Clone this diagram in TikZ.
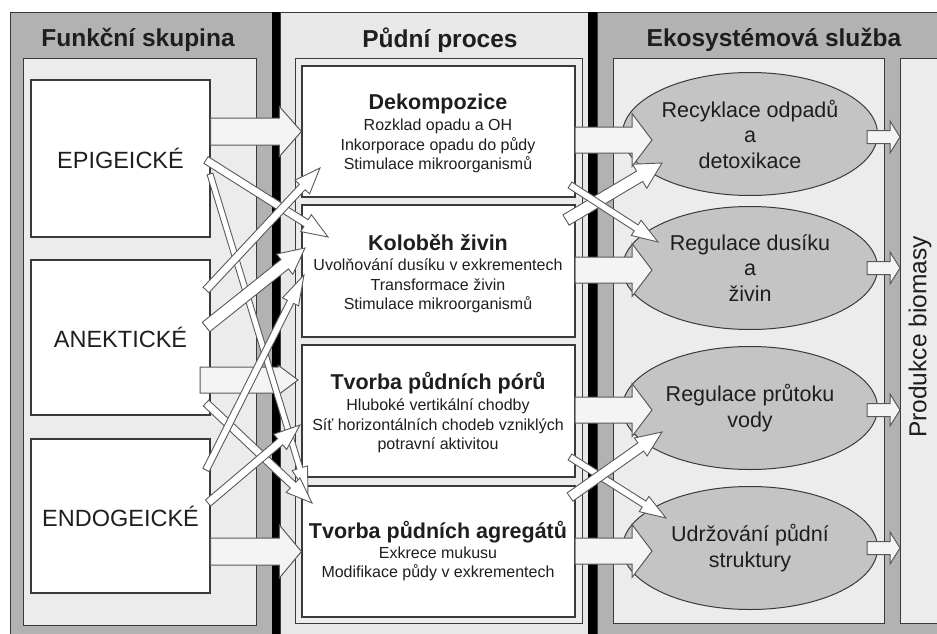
\documentclass[tikz,border=0pt]{standalone}
\usepackage{fontspec}
\setmainfont{Liberation Sans}
\usetikzlibrary{calc,shapes.geometric}

\definecolor{panelgray}{HTML}{B2B2B2}
\definecolor{panellight}{HTML}{ECECEC}
\definecolor{midlight}{HTML}{E8E8E8}
\definecolor{ellgray}{HTML}{C4C4C4}
\definecolor{edge}{HTML}{3A3A3A}
\definecolor{arrfill}{HTML}{F4F4F4}
\definecolor{arredge}{HTML}{5A5A5A}
\definecolor{txt}{HTML}{1E1E1E}

% #1 style, #2 start, #3 end, #4 half shaft, #5 half head, #6 head length
\newcommand\fatarr[6][]{%
  \path ($(#3)!#6!(#2)$) coordinate (fa-h);
  \filldraw[#1] ($(#2)!#4!90:(#3)$) -- ($(fa-h)!#4!90:(#3)$) -- ($(fa-h)!#5!90:(#3)$) -- (#3)
    -- ($(fa-h)!#5!-90:(#3)$) -- ($(fa-h)!#4!-90:(#3)$) -- ($(#2)!#4!-90:(#3)$) -- cycle;
}

\tikzset{
  panel/.style={draw=edge, line width=0.9pt},
  wbox/.style={draw=edge, fill=white, line width=1.2pt, inner sep=0pt},
  ell/.style={ellipse, draw=edge, fill=ellgray, line width=1pt, minimum width=255pt, minimum height=123pt, inner sep=0pt, align=center, font=\fontsize{21.5}{25.5}\selectfont, text=txt},
  hdr/.style={font=\bfseries\fontsize{24.5}{28}\selectfont, text=txt, inner sep=0pt},
  grp/.style={font=\fontsize{23.5}{28}\selectfont, text=txt},
  ttl/.style={font=\bfseries\fontsize{21.5}{25}\selectfont, text=txt, inner sep=0pt},
  bodytxt/.style={font=\fontsize{16}{19.5}\selectfont, text=txt, align=center, inner sep=0pt},
  bigarr/.style={fill=arrfill, draw=arredge, line width=1pt, line join=miter},
  thinarr/.style={fill=white, draw=arredge, line width=0.9pt, line join=miter},
}

\begin{document}
\begin{tikzpicture}[x=1pt,y=-1pt]
\useasboundingbox (0,0) rectangle (937,634);
\fill[white] (0,0) rectangle (937,634);

% column panels
\filldraw[panel, fill=panelgray] (10,12) rectangle (272,640);
\filldraw[panel, fill=midlight] (280,12) rectangle (588,640);
\filldraw[panel, fill=panelgray] (597,12) rectangle (945,640);
\fill[black] (272,12) rectangle (280,640);
\fill[black] (588,12) rectangle (597,640);

% inner panels
\filldraw[panel, fill=panellight] (23,58) rectangle (256,625);
\filldraw[panel, fill=panellight] (295,58) rectangle (582,623);
\filldraw[panel, fill=panellight] (613,58) rectangle (884,623);
\filldraw[panel, fill=panellight] (900,58) rectangle (945,623);

% headers
\node[hdr] (h1) at (138,40) {Funkční skupina};
\node[hdr] (h2) at (440,40) {Půdní proces};
\node[hdr] (h3) at (774,40) {Ekosystémová služba};

% functional groups
\node[wbox, grp, minimum width=179pt, minimum height=157pt] (epi) at (120.5,158.5) {EPIGEICKÉ};
\node[wbox, grp, minimum width=179pt, minimum height=155pt] (ane) at (120.5,337.5) {ANEKTICKÉ};
\node[wbox, grp, minimum width=179pt, minimum height=154pt] (endo) at (120.5,516) {ENDOGEICKÉ};

% soil processes
\node[wbox, minimum width=273pt, minimum height=131pt] (dek) at (438.5,131.5) {};
\node[wbox, minimum width=273pt, minimum height=132pt] (kol) at (438.5,271) {};
\node[wbox, minimum width=273pt, minimum height=132pt] (por) at (438.5,411) {};
\node[wbox, minimum width=273pt, minimum height=131pt] (agr) at (438.5,551.5) {};

\node[ttl] (dek-t) at (438,104) {Dekompozice};
\node[bodytxt] (dek-b) at (438,146) {Rozklad opadu a OH\\Inkorporace opadu do půdy\\Stimulace mikroorganismů};
\node[ttl] (kol-t) at (438,243) {Koloběh živin};
\node[bodytxt] (kol-b) at (438,286) {Uvolňování dusíku v exkrementech\\Transformace živin\\Stimulace mikroorganismů};
\node[ttl] (por-t) at (438,383) {Tvorba půdních pórů};
\node[bodytxt] (por-b) at (438,426) {Hluboké vertikální chodby\\Síť horizontálních chodeb vzniklých\\potravní aktivitou};
\node[ttl] (agr-t) at (438,532) {Tvorba půdních agregátů};
\node[bodytxt] (agr-b) at (438,564) {Exkrece mukusu\\Modifikace půdy v exkrementech};

% ecosystem services
\node[ell] (e1) at (750,134) {Recyklace odpadů\\a\\detoxikace};
\node[ell] (e2) at (750,268) {Regulace dusíku\\a\\živin};
\node[ell] (e3) at (750,408) {Regulace průtoku\\vody};
\node[ell] (e4) at (750,548) {Udržování půdní\\struktury};

\node[font=\fontsize{24.5}{28}\selectfont, text=txt, rotate=90, inner sep=0pt] (prod) at (920,337) {Produkce biomasy};

% arrow end points
\coordinate (a1s) at ($(epi.east |- 0,131.5)$);
\coordinate (a1e) at ($(dek.west)$);
\coordinate (a2s) at (200,380);
\coordinate (a2e) at (298,380);
\coordinate (a3s) at ($(endo.east |- 0,551.5)$);
\coordinate (a3e) at ($(agr.west)$);

\coordinate (b1s) at (575,140); \coordinate (b1e) at (652,140);
\coordinate (b2s) at (575,270); \coordinate (b2e) at (652,270);
\coordinate (b3s) at (575,410); \coordinate (b3e) at (652,410);
\coordinate (b4s) at (575,551); \coordinate (b4e) at (652,551);

\coordinate (c1s) at (867,137); \coordinate (c1e) at (900,137);
\coordinate (c2s) at (867,268); \coordinate (c2e) at (900,268);
\coordinate (c3s) at (867,410); \coordinate (c3e) at (900,410);
\coordinate (c4s) at (867,548); \coordinate (c4e) at (900,548);

\coordinate (l1s) at (206,160); \coordinate (l1e) at (328,237);
\coordinate (l2s) at (210,174); \coordinate (l2e) at (308,495);
\coordinate (l3s) at (206,290); \coordinate (l3e) at (320,168);
\coordinate (l4s) at (206,327); \coordinate (l4e) at (305,248);
\coordinate (l5s) at (206,403); \coordinate (l5e) at (312,503);
\coordinate (l6s) at (206,470); \coordinate (l6e) at (304,275);
\coordinate (l7s) at (208,503); \coordinate (l7e) at (300,425);

\coordinate (r1s) at (566,220); \coordinate (r1e) at (662,163);
\coordinate (r2s) at (570,185); \coordinate (r2e) at (658,242);
\coordinate (r3s) at (570,457); \coordinate (r3e) at (666,518);
\coordinate (r4s) at (570,497); \coordinate (r4e) at (662,432);

% big arrows
\fatarr[bigarr]{a1s}{a1e}{13.5pt}{25pt}{22pt}
\fatarr[bigarr]{a2s}{a2e}{13pt}{15pt}{20pt}
\fatarr[bigarr]{a3s}{a3e}{13.5pt}{26.5pt}{22pt}
\fatarr[bigarr]{b1s}{b1e}{13pt}{26.5pt}{20pt}
\fatarr[bigarr]{b2s}{b2e}{13pt}{26.5pt}{20pt}
\fatarr[bigarr]{b3s}{b3e}{13pt}{26.5pt}{20pt}
\fatarr[bigarr]{b4s}{b4e}{13pt}{26.5pt}{20pt}
\fatarr[bigarr]{c1s}{c1e}{6.5pt}{16pt}{10pt}
\fatarr[bigarr]{c2s}{c2e}{6.5pt}{16pt}{10pt}
\fatarr[bigarr]{c3s}{c3e}{6.5pt}{16pt}{10pt}
\fatarr[bigarr]{c4s}{c4e}{6.5pt}{16pt}{10pt}

% thin arrows
\fatarr[thinarr]{l1s}{l1e}{4pt}{10pt}{26pt}
\fatarr[thinarr]{l2s}{l2e}{3pt}{8pt}{28pt}
\fatarr[thinarr]{l3s}{l3e}{4pt}{10pt}{26pt}
\fatarr[thinarr]{l4s}{l4e}{6pt}{13pt}{26pt}
\fatarr[thinarr]{l5s}{l5e}{4pt}{10pt}{26pt}
\fatarr[thinarr]{l6s}{l6e}{3.5pt}{9pt}{30pt}
\fatarr[thinarr]{l7s}{l7e}{4pt}{10pt}{26pt}
\fatarr[thinarr]{r1s}{r1e}{6pt}{14pt}{26pt}
\fatarr[thinarr]{r2s}{r2e}{3.5pt}{9pt}{26pt}
\fatarr[thinarr]{r3s}{r3e}{3.5pt}{9pt}{26pt}
\fatarr[thinarr]{r4s}{r4e}{5pt}{11pt}{26pt}
\end{tikzpicture}
\end{document}
